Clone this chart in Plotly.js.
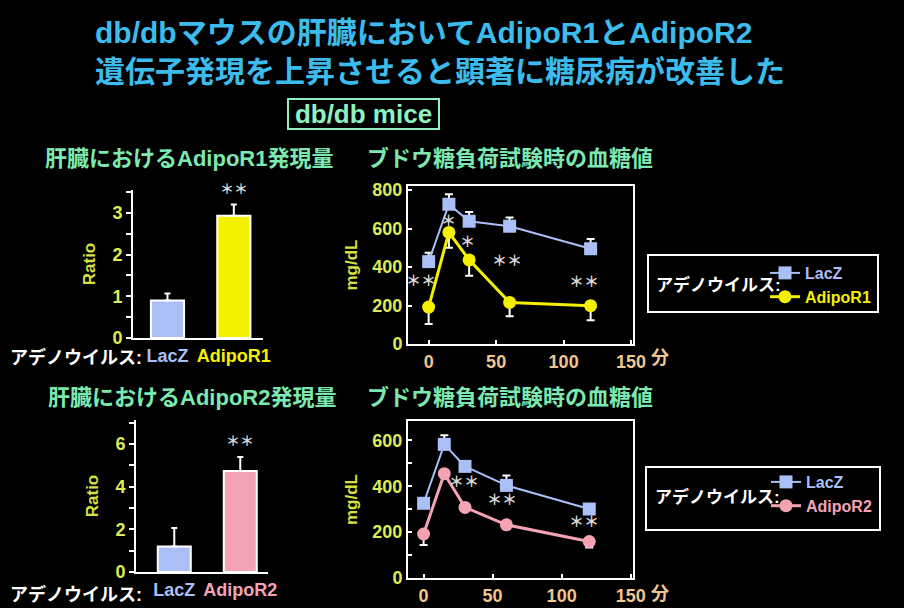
<!DOCTYPE html>
<html>
<head>
<meta charset="utf-8">
<script src="https://cdn.plot.ly/plotly-3.0.1.min.js"></script>
<style>html,body{margin:0;padding:0;background:#000;}</style>
</head>
<body>
<div id="chart" style="width:904px;height:608px;"></div>
<script>
// ---- data ----
const barCatsR1 = ['LacZ', 'AdipoR1'];
const ratioR1 = [0.9, 2.93];
const ratioR1Err = [0.17, 0.27];

const barCatsR2 = ['LacZ', 'AdipoR2'];
const ratioR2 = [1.19, 4.73];
const ratioR2Err = [0.87, 0.66];

const timesMin = [0, 15, 30, 60, 120];
const glucLacZ1 = [428, 726, 638, 612, 495];
const glucLacZ1Err = [46, 52, 48, 45, 50];
const glucAdipoR1 = [192, 580, 437, 216, 199];
const glucAdipoR1Err = [88, 80, 83, 72, 76];

const glucLacZ2 = [326, 583, 487, 404, 301];
const glucLacZ2Err = [12, 40, 19, 43, 22];
const glucAdipoR2 = [192, 455, 308, 232, 159];
const glucAdipoR2Err = [48, 14, 8, 10, 26];

const xTickVals = [0, 50, 100, 150];
const xTickText = ['0', '50', '100', '150'];

// significance marks: [x, y, text]
const sigTop = [[-6, 330, '＊＊'], [15, 642, '＊'], [29, 531, '＊'], [58, 433, '＊＊'], [115, 325, '＊＊']];
const sigBottom = [[29, 422, '＊＊'], [57, 342, '＊＊'], [116, 247, '＊＊']];

// ---- styles ----
const W = 904, H = 608;
const FONT = '"Liberation Sans", Arial, "Noto Sans CJK JP", sans-serif';
const C_LACZ = '#a9bff5', C_R1 = '#f5f000', C_R2 = '#f4a3b4';
const C_TICK = '#dcec52', C_AXT = '#d8e040', C_XT = '#efc690', C_SUB = '#7ce8b0';
const C_STAR = '#d8d8d8';
const px = v => v / W, py = v => 1 - v / H;
const span = (t, c) => '<span style="color:' + c + '">' + t + '</span>';

const traces = [
  {type: 'bar', x: barCatsR1, y: ratioR1, xaxis: 'x', yaxis: 'y', width: 0.5,
   marker: {color: [C_LACZ, C_R1], line: {color: '#ffffff', width: 2}},
   error_y: {type: 'data', array: ratioR1Err, arrayminus: [0, 0], symmetric: false, color: '#ffffff', thickness: 2, width: 3},
   showlegend: false, hoverinfo: 'skip'},
  {type: 'bar', x: barCatsR2, y: ratioR2, xaxis: 'x3', yaxis: 'y3', width: 0.5,
   marker: {color: [C_LACZ, C_R2], line: {color: '#ffffff', width: 2}},
   error_y: {type: 'data', array: ratioR2Err, arrayminus: [0, 0], symmetric: false, color: '#ffffff', thickness: 2, width: 3},
   showlegend: false, hoverinfo: 'skip'},
  {type: 'scatter', mode: 'lines+markers', x: timesMin, y: glucLacZ1, xaxis: 'x2', yaxis: 'y2',
   name: span('LacZ', C_LACZ), legend: 'legend',
   line: {color: C_LACZ, width: 2}, marker: {symbol: 'square', size: 13, color: C_LACZ},
   error_y: {type: 'data', array: glucLacZ1Err, arrayminus: [0, 0, 0, 0, 0], symmetric: false, color: '#ffffff', thickness: 2, width: 4}},
  {type: 'scatter', mode: 'lines+markers', x: timesMin, y: glucAdipoR1, xaxis: 'x2', yaxis: 'y2',
   name: span('AdipoR1', C_R1), legend: 'legend',
   line: {color: C_R1, width: 3}, marker: {symbol: 'circle', size: 13, color: C_R1},
   error_y: {type: 'data', array: [0, 0, 0, 0, 0], arrayminus: glucAdipoR1Err, symmetric: false, color: '#ffffff', thickness: 2, width: 4}},
  {type: 'scatter', mode: 'lines+markers', x: timesMin, y: glucLacZ2, xaxis: 'x4', yaxis: 'y4',
   name: span('LacZ', C_LACZ), legend: 'legend2',
   line: {color: C_LACZ, width: 2}, marker: {symbol: 'square', size: 13, color: C_LACZ},
   error_y: {type: 'data', array: glucLacZ2Err, arrayminus: [0, 0, 0, 0, 0], symmetric: false, color: '#ffffff', thickness: 2, width: 4}},
  {type: 'scatter', mode: 'lines+markers', x: timesMin, y: glucAdipoR2, xaxis: 'x4', yaxis: 'y4',
   name: span('AdipoR2', C_R2), legend: 'legend2',
   line: {color: C_R2, width: 3}, marker: {symbol: 'circle', size: 13, color: C_R2},
   error_y: {type: 'data', array: [0, 0, 0, 0, 0], arrayminus: glucAdipoR2Err, symmetric: false, color: '#ffffff', thickness: 2, width: 4}}
];

const tickFont = {family: FONT, size: 18, color: C_TICK, weight: 700};
const axTitleFont = {family: FONT, size: 17, color: C_AXT, weight: 700};

function barX(dom, cats, rng, anchor) {
  return {domain: dom, anchor: anchor, type: 'category', range: rng, showline: true, linecolor: '#ffffff', linewidth: 2,
    ticks: '', showgrid: false, zeroline: false, tickvals: cats,
    ticktext: [span(cats[0], C_LACZ), span(cats[1], cats[1] === 'AdipoR1' ? C_R1 : C_R2)],
    tickfont: {family: FONT, size: 18, color: '#ffffff', weight: 700}, fixedrange: true};
}
function barY(dom, rng, dt, mdt, anchor) {
  return {domain: dom, anchor: anchor, range: rng, showline: true, linecolor: '#ffffff', linewidth: 2, showgrid: false, zeroline: false,
    ticks: 'outside', ticklen: 5, tickwidth: 2, tickcolor: '#ffffff', dtick: dt, tick0: 0,
    minor: {dtick: mdt, tick0: 0, ticks: 'outside', ticklen: 5, tickwidth: 2, tickcolor: '#ffffff', showgrid: false},
    tickfont: tickFont, title: {text: 'Ratio', font: axTitleFont, standoff: 12}, fixedrange: true};
}
function lineX(dom, rng, anchor) {
  return {domain: dom, anchor: anchor, range: rng, showline: true, mirror: true, linecolor: '#ffffff', linewidth: 2, showgrid: false,
    zeroline: false, ticks: 'inside', ticklen: 4, tickwidth: 2, tickcolor: '#ffffff', tickvals: xTickVals, ticktext: xTickText,
    tickfont: {family: FONT, size: 18, color: C_XT, weight: 700}, fixedrange: true};
}
function lineY(dom, rng, mdt, anchor) {
  return {domain: dom, anchor: anchor, range: rng, showline: true, mirror: true, linecolor: '#ffffff', linewidth: 2, showgrid: false,
    zeroline: false, ticks: 'inside', ticklen: 4, tickwidth: 2, tickcolor: '#ffffff', dtick: 200, tick0: 0,
    minor: {dtick: mdt, tick0: 0, ticks: 'inside', ticklen: 4, tickwidth: 2, tickcolor: '#ffffff', showgrid: false},
    tickfont: tickFont, title: {text: 'mg/dL', font: axTitleFont, standoff: 10}, fixedrange: true};
}

const annotations = [];
function addText(x, y, text, size, color, anchor) {
  annotations.push({xref: 'paper', yref: 'paper', x: px(x), y: py(y), text: text, showarrow: false,
    xanchor: anchor || 'center', yanchor: 'middle', font: {family: FONT, size: size, color: color, weight: 700}});
}
addText(189, 158, '肝臓におけるAdipoR1発現量', 22, C_SUB);
addText(510, 158, 'ブドウ糖負荷試験時の血糖値', 22, C_SUB);
addText(192, 397, '肝臓におけるAdipoR2発現量', 22, C_SUB);
addText(510, 397, 'ブドウ糖負荷試験時の血糖値', 22, C_SUB);
addText(8, 357, 'アデノウイルス:', 18, '#ffffff', 'left');
addText(8, 594, 'アデノウイルス:', 18, '#ffffff', 'left');
addText(660, 358, '分', 18, C_XT);
addText(660, 594, '分', 18, C_XT);
// legend captions
addText(654, 285, 'アデノウイルス:', 17, '#ffffff', 'left');
addText(653, 497, 'アデノウイルス:', 17, '#ffffff', 'left');
annotations.push({xref: 'paper', yref: 'paper', x: px(363.5), y: py(114), text: 'db/db mice', showarrow: false,
  xanchor: 'center', yanchor: 'middle', width: 147, height: 26, bordercolor: '#8ff0c0', borderwidth: 2, bgcolor: '#000000',
  font: {family: FONT, size: 26, color: '#8ff0c0', weight: 700}});
// ** over bars
annotations.push({xref: 'x', yref: 'paper', x: barCatsR1[1], y: py(189), yanchor: 'middle', text: '＊＊', showarrow: false,
  font: {family: FONT, size: 14, color: C_STAR, weight: 700}});
annotations.push({xref: 'x3', yref: 'paper', x: barCatsR2[1], y: py(441), yanchor: 'middle', text: '＊＊', showarrow: false,
  font: {family: FONT, size: 14, color: C_STAR, weight: 700}});
sigTop.forEach(s => annotations.push({xref: 'x2', yref: 'y2', x: s[0], y: s[1], yanchor: 'middle', text: s[2], showarrow: false,
  font: {family: FONT, size: 15, color: C_STAR, weight: 700}}));
sigBottom.forEach(s => annotations.push({xref: 'x4', yref: 'y4', x: s[0], y: s[1], yanchor: 'middle', text: s[2], showarrow: false,
  font: {family: FONT, size: 15, color: C_STAR, weight: 700}}));

const boxShape = (x0, y0, x1, y1) => ({type: 'rect', xref: 'paper', yref: 'paper', x0: px(x0), x1: px(x1), y0: py(y1), y1: py(y0),
  line: {color: '#ffffff', width: 2}, fillcolor: 'rgba(0,0,0,0)', layer: 'below'});

const legendBase = {bgcolor: 'rgba(0,0,0,0)', borderwidth: 0, xanchor: 'left', yanchor: 'top',
  font: {family: FONT, size: 16, color: '#ffffff', weight: 700}, itemwidth: 30, tracegroupgap: 0};

const layout = {
  width: W, height: H, margin: {l: 0, r: 0, t: 0, b: 0},
  paper_bgcolor: '#000000', plot_bgcolor: '#000000',
  title: {text: 'db/dbマウスの肝臓においてAdipoR1とAdipoR2<br>遺伝子発現を上昇させると顕著に糖尿病が改善した',
    x: px(95), xanchor: 'left', y: py(43), yanchor: 'top', yref: 'container',
    font: {family: FONT, size: 30, color: '#3cbcec', weight: 700}},
  xaxis: barX([px(133), px(263)], barCatsR1, [-0.52, 1.44], 'y'),
  yaxis: barY([py(338), py(190)], [0, 3.55], 1, 0.5, 'x'),
  xaxis2: lineX([px(408), px(633)], [-15.3, 151.4], 'y2'),
  yaxis2: lineY([py(344), py(186)], [0, 821], 200, 'x2'),
  xaxis3: barX([px(136), px(268)], barCatsR2, [-0.58, 1.42], 'y3'),
  yaxis3: barY([py(572), py(420)], [0, 7.12], 2, 1, 'x3'),
  xaxis4: lineX([px(408), px(633)], [-11.3, 151.7], 'y4'),
  yaxis4: lineY([py(578), py(421)], [0, 685], 100, 'x4'),
  legend: Object.assign({}, legendBase, {x: px(765), y: py(256)}),
  legend2: Object.assign({}, legendBase, {x: px(766), y: py(465)}),
  shapes: [boxShape(648, 255, 878, 312), boxShape(646, 467, 880, 530)],
  annotations: annotations,
  showlegend: true,
  bargap: 0
};

Plotly.newPlot('chart', traces, layout, {displayModeBar: false, staticPlot: true});
</script>
</body>
</html>
